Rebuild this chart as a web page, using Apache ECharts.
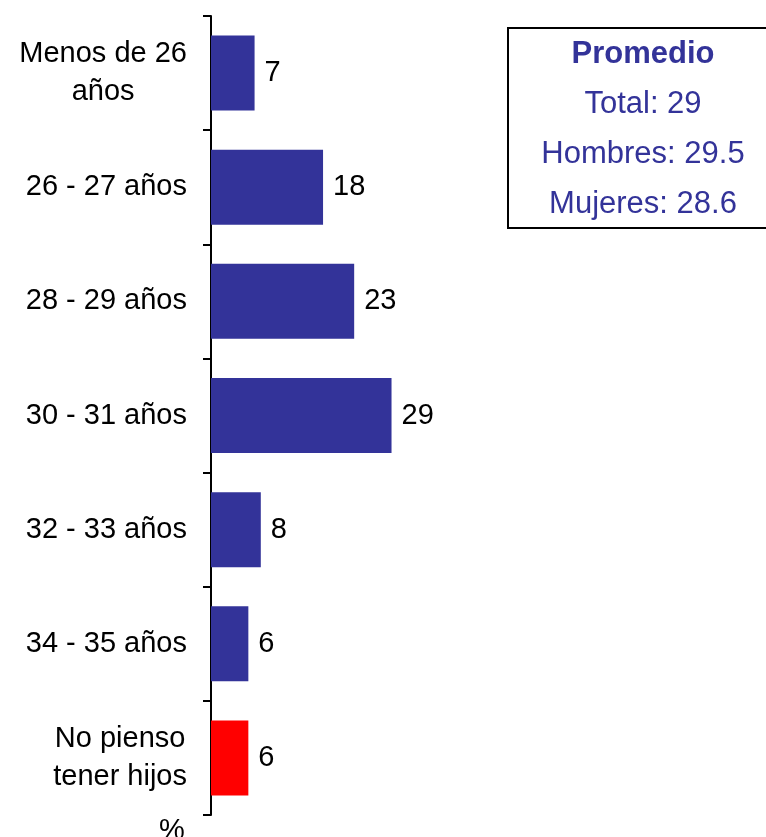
<!DOCTYPE html>
<html>
<head>
<meta charset="utf-8">
<script src="https://cdn.jsdelivr.net/npm/echarts@6/dist/echarts.min.js"></script>
<style>html,body{margin:0;padding:0;background:#fff;}#c{width:766px;height:837px;}</style>
</head>
<body>
<div id="c"></div>
<script>
const categories = ['Menos de 26\naños', '26 - 27 años', '28 - 29 años', '30 - 31 años', '32 - 33 años', '34 - 35 años', 'No pienso\ntener hijos'];
const values = [7, 18, 23, 29, 8, 6, 6];
const barColors = ['#333399', '#333399', '#333399', '#333399', '#333399', '#333399', '#FF0000'];
const boxTitle = 'Promedio';
const boxLines = ['Total: 29', 'Hombres: 29.5', 'Mujeres: 28.6'];

const chart = echarts.init(document.getElementById('c'));
const font = 'Liberation Sans, Arial, sans-serif';
chart.setOption({
  animation: false,
  grid: { left: 211, top: 16, height: 799, width: 498 },
  xAxis: { type: 'value', min: 0, max: 80, show: false },
  yAxis: {
    type: 'category', data: categories, inverse: true,
    axisLine: { show: true, lineStyle: { color: '#000', width: 2 } },
    axisTick: { show: true, alignWithLabel: false, length: 8, lineStyle: { color: '#000', width: 2 } },
    axisLabel: {
      margin: 24, color: '#000', fontSize: 29, fontFamily: font, lineHeight: 38,
      formatter: v => '{a|' + v.split('\n').join('}\n{a|') + '}',
      rich: { a: { align: 'center', fontSize: 29, fontFamily: font, lineHeight: 38, color: '#000' } }
    }
  },
  series: [{
    type: 'bar', barWidth: 75,
    data: values.map((v, i) => ({ value: v, itemStyle: { color: barColors[i] } })),
    label: { show: true, position: 'right', distance: 10, color: '#000', fontSize: 29, fontFamily: font }
  }],
  graphic: [
    { type: 'rect', shape: { x: 508, y: 28, width: 280, height: 200 }, style: { fill: '#fff', stroke: '#000', lineWidth: 2 } },
    { type: 'text', x: 643, y: 54, style: { text: boxTitle, fill: '#333399', font: 'bold 31px ' + font, textAlign: 'center', textVerticalAlign: 'middle' } },
    ...boxLines.map((t, i) => ({ type: 'text', x: 643, y: 104 + i * 50, style: { text: t, fill: '#333399', font: '31px ' + font, textAlign: 'center', textVerticalAlign: 'middle' } })),
    { type: 'text', x: 172, y: 831, style: { text: '%', fill: '#000', font: '29px ' + font, textAlign: 'center', textVerticalAlign: 'middle' } }
  ]
});
</script>
</body>
</html>
